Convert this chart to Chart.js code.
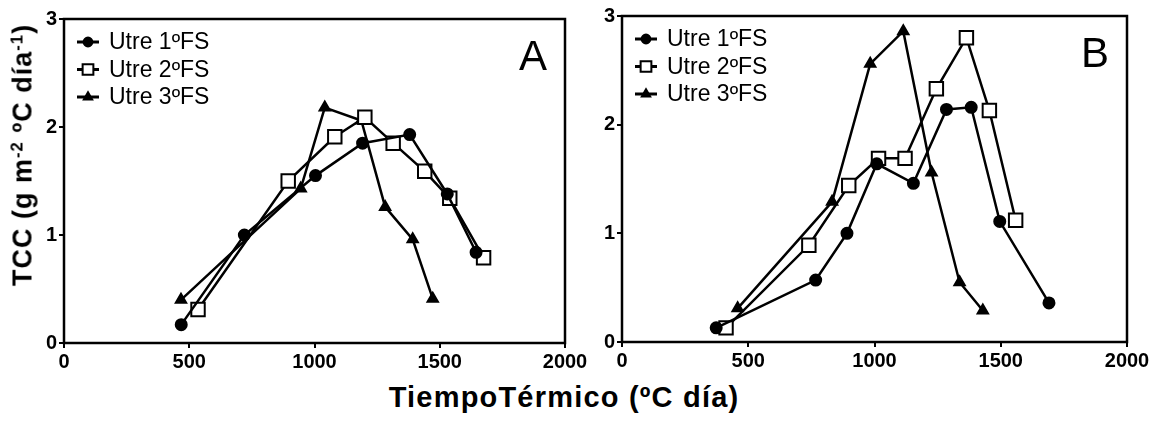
<!DOCTYPE html>
<html><head><meta charset="utf-8">
<script src="https://cdn.jsdelivr.net/npm/chart.js@4.4.1/dist/chart.umd.min.js"></script>
<style>
html,body{margin:0;padding:0;background:#fff;}
#wrap{position:relative;width:1160px;height:424px;overflow:hidden;background:#fff;font-family:'Liberation Sans',Arial,sans-serif;color:#000;}
canvas{position:absolute;top:0;}
#ytitle{position:absolute;left:23px;top:155px;transform:translate(-50%,-50%) rotate(-90deg);white-space:nowrap;font-weight:bold;font-size:27px;letter-spacing:1px;line-height:27px;}
#xtitle{position:absolute;left:564px;top:383px;transform:translateX(-50%);white-space:nowrap;font-weight:bold;font-size:29px;letter-spacing:1.2px;line-height:29px;}
sup{font-size:0.62em;position:relative;top:-0.55em;vertical-align:baseline;line-height:0;}
</style></head>
<body>
<div id="wrap">
<canvas id="cA" width="600" height="372" style="left:0px"></canvas>
<canvas id="cB" width="580" height="372" style="left:580px"></canvas>
<div id="ytitle">TCC (g m<sup>-2</sup> ºC día<sup>-1</sup>)</div>
<div id="xtitle">TiempoTérmico (ºC día)</div>
</div>
<script>
// ---- data ----
const seriesNames = ['Utre 1ºFS', 'Utre 2ºFS', 'Utre 3ºFS'];
const xTickValues = [0, 500, 1000, 1500, 2000];
const yTickValues = [0, 1, 2, 3];

// Panel A
const xA1 = [468, 720, 1004, 1192, 1380, 1530, 1645];
const yA1 = [0.17, 1.00, 1.55, 1.85, 1.93, 1.38, 0.84];
const xA2 = [535, 895, 1081, 1201, 1314, 1440, 1540, 1675];
const yA2 = [0.31, 1.50, 1.91, 2.09, 1.85, 1.59, 1.34, 0.79];
const xA3 = [467, 945, 1041, 1187, 1282, 1392, 1472];
const yA3 = [0.40, 1.43, 2.18, 2.06, 1.26, 0.96, 0.41];

// Panel B
const xB1 = [373, 767, 891, 1009, 1154, 1285, 1383, 1496, 1691];
const yB1 = [0.13, 0.57, 1.00, 1.64, 1.46, 2.14, 2.16, 1.11, 0.36];
const xB2 = [412, 740, 898, 1016, 1121, 1245, 1364, 1455, 1559];
const yB2 = [0.13, 0.89, 1.44, 1.69, 1.69, 2.33, 2.80, 2.13, 1.12];
const xB3 = [458, 832, 983, 1114, 1226, 1337, 1429];
const yB3 = [0.31, 1.29, 2.56, 2.86, 1.56, 0.55, 0.29];

// ---- styling ----
const FONT = "'Liberation Sans', Arial, sans-serif";
const markers = [
  {pointStyle: 'circle', radius: 5.5, bg: '#000'},
  {pointStyle: 'rect', radius: 9.5, bg: '#fff'},
  {pointStyle: 'triangle', radius: 6, bg: '#000'}
];

const deco = {
  id: 'panelDeco',
  afterDatasetsDraw(chart, args, opts) {
    const ctx = chart.ctx, a = chart.chartArea;
    ctx.save();
    ctx.strokeStyle = '#000';
    ctx.lineWidth = 2.5;
    ctx.strokeRect(a.left, a.top, a.right - a.left, a.bottom - a.top);
    chart.data.datasets.forEach((ds, i) => {
      const y = a.top + 23 + i * 27.5;
      ctx.beginPath();
      ctx.lineWidth = 3;
      ctx.strokeStyle = '#000';
      ctx.moveTo(a.left + 13, y);
      ctx.lineTo(a.left + 35, y);
      ctx.stroke();
      ctx.fillStyle = markers[i].bg;
      ctx.lineWidth = 2;
      Chart.helpers.drawPoint(ctx, {pointStyle: markers[i].pointStyle, radius: markers[i].radius * 0.8, rotation: 0, borderWidth: 2}, a.left + 24, y);
      ctx.fillStyle = '#000';
      ctx.font = '23px ' + FONT;
      ctx.textAlign = 'left';
      ctx.textBaseline = 'middle';
      ctx.fillText(ds.label, a.left + 45, y + 1);
    });
    ctx.fillStyle = '#000';
    ctx.font = '42px ' + FONT;
    ctx.textAlign = 'right';
    ctx.textBaseline = 'alphabetic';
    ctx.fillText(opts.letter, a.right - 18, a.top + 51);
    ctx.restore();
  }
};

function build(id, xs, ys, letter, g) {
  const datasets = xs.map((xv, i) => ({
    label: seriesNames[i],
    data: xv.map((x, j) => ({x: x, y: ys[i][j]})),
    showLine: true,
    borderColor: '#000',
    borderWidth: 2.5,
    tension: 0,
    fill: false,
    pointStyle: markers[i].pointStyle,
    pointRadius: markers[i].radius,
    pointBackgroundColor: markers[i].bg,
    pointBorderColor: '#000',
    pointBorderWidth: 2
  }));
  const tickFont = {family: FONT, size: 20, weight: 'bold'};
  new Chart(document.getElementById(id), {
    type: 'scatter',
    data: {datasets},
    options: {
      responsive: false,
      animation: false,
      devicePixelRatio: 1,
      layout: {padding: {top: g.top, right: g.right, left: 0, bottom: 0}},
      plugins: {legend: {display: false}, tooltip: {enabled: false}, panelDeco: {letter: letter}},
      scales: {
        x: {
          type: 'linear', min: xTickValues[0], max: xTickValues[xTickValues.length - 1],
          afterBuildTicks(s) { s.ticks = xTickValues.map(v => ({value: v})); },
          ticks: {color: '#000', font: tickFont, padding: 2, maxRotation: 0, autoSkip: false, callback: v => String(v)},
          grid: {drawOnChartArea: false, drawTicks: true, tickLength: 5, color: '#000', lineWidth: 2},
          border: {display: true, color: '#000', width: 2},
          afterFit(s) { s.height = g.xh; }
        },
        y: {
          min: yTickValues[0], max: yTickValues[yTickValues.length - 1],
          afterBuildTicks(s) { s.ticks = yTickValues.map(v => ({value: v})); },
          ticks: {color: '#000', font: tickFont, padding: 2, callback: v => String(v)},
          grid: {drawOnChartArea: false, drawTicks: true, tickLength: 5, color: '#000', lineWidth: 2},
          border: {display: true, color: '#000', width: 2},
          afterFit(s) { s.width = g.yw; }
        }
      }
    },
    plugins: [deco]
  });
}

build('cA', [xA1, xA2, xA3], [yA1, yA2, yA3], 'A', {top: 19, right: 35, yw: 64, xh: 29});
build('cB', [xB1, xB2, xB3], [yB1, yB2, yB3], 'B', {top: 16, right: 33, yw: 42, xh: 30});
</script>
</body></html>
